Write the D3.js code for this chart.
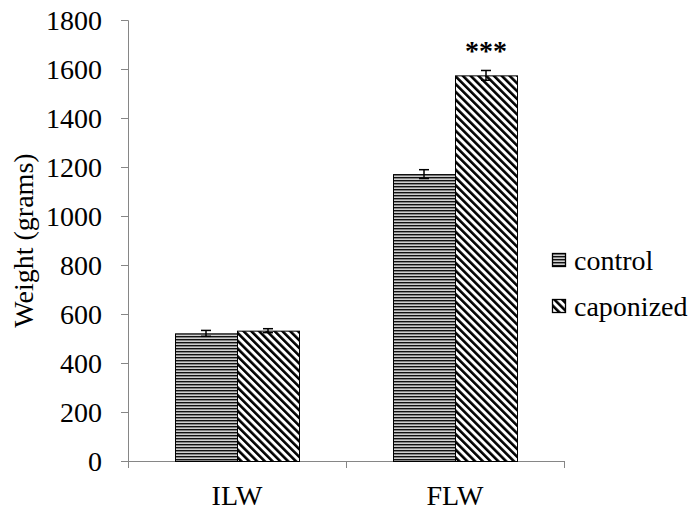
<!DOCTYPE html>
<html>
<head>
<meta charset="utf-8">
<script src="https://cdn.jsdelivr.net/npm/d3@7"></script>
<style>
	body { margin: 0; background: #fff; }
</style>
</head>
<body>
<div id="chart"></div>
<script>
// Data
var categories = ['ILW', 'FLW'];
var seriesNames = ['control', 'caponized'];
var controlValues = [521, 1171];
var controlErrors = [12, 18];
var caponizedValues = [532, 1574];
var caponizedErrors = [8, 20];
var yTicks = [0, 200, 400, 600, 800, 1000, 1200, 1400, 1600, 1800];
var significance = ['', '***'];

var width = 698, height = 512;
var margin = { left: 128, right: 134, top: 20, bottom: 51 };
var serif = '"Liberation Serif", "Times New Roman", Times, serif';
var fontSize = 28;

var svg = d3.select('#chart').append('svg')
	.attr('width', width)
	.attr('height', height)
	.attr('font-family', serif);

// Patterns
var defs = svg.append('defs');
var hp = defs.append('pattern')
	.attr('id', 'hlines')
	.attr('patternUnits', 'userSpaceOnUse')
	.attr('width', 6).attr('height', 3);
hp.append('rect').attr('width', 6).attr('height', 3).attr('fill', '#cfcfcf');
hp.append('rect').attr('y', 0).attr('width', 6).attr('height', 1.4).attr('fill', '#111');

var dp = defs.append('pattern')
	.attr('id', 'dlines')
	.attr('patternUnits', 'userSpaceOnUse')
	.attr('width', 5.5).attr('height', 5.5)
	.attr('patternTransform', 'rotate(-45)');
dp.append('rect').attr('width', 5.5).attr('height', 5.5).attr('fill', '#fff');
dp.append('rect').attr('x', 0).attr('width', 2.6).attr('height', 5.5).attr('fill', '#000');

var fills = ['url(#hlines)', 'url(#dlines)'];

// Scales
var x = d3.scaleBand()
	.domain(categories)
	.range([margin.left, width - margin.right])
	.paddingInner(0).paddingOuter(0);

var y = d3.scaleLinear()
	.domain([0, 1800])
	.range([height - margin.bottom, margin.top]);

var barW = 62;
var xs = d3.scaleBand()
	.domain(seriesNames)
	.range([0, barW * 2]);

// Axes
var axisColor = '#868686';
var yAxis = d3.axisLeft(y).tickValues(yTicks).tickFormat(d3.format('d')).tickSize(7).tickPadding(19);
var gy = svg.append('g')
	.attr('transform', 'translate(' + margin.left + ',0)')
	.call(yAxis)
	.attr('font-family', serif)
	.attr('font-size', fontSize);
gy.select('.domain').attr('stroke', axisColor);
gy.selectAll('.tick line').attr('stroke', axisColor);
gy.selectAll('.tick text')
	.attr('fill', '#000')
	.attr('dy', '0.34em');

var x0 = margin.left, x1 = width - margin.right;
var gx = svg.append('g');
gx.append('line')
	.attr('x1', x0 - 7).attr('x2', x1)
	.attr('y1', y(0) + 0.5).attr('y2', y(0) + 0.5)
	.attr('stroke', axisColor);
// category boundary ticks
var bounds = [x0].concat(categories.map(function(c) { return x(c) + x.bandwidth(); }));
gx.selectAll('.btick').data(bounds)
	.enter().append('line')
	.attr('x1', function(d) { return d + 0.5; })
	.attr('x2', function(d) { return d + 0.5; })
	.attr('y1', y(0)).attr('y2', y(0) + 7)
	.attr('stroke', axisColor);
gx.selectAll('.clabel').data(categories)
	.enter().append('text')
	.attr('x', function(d) { return x(d) + x.bandwidth() / 2; })
	.attr('y', y(0) + 44)
	.attr('text-anchor', 'middle')
	.attr('font-size', fontSize)
	.text(function(d) { return d; });

// Y title
svg.append('text')
	.attr('transform', 'translate(33,' + ((margin.top + height - margin.bottom) / 2) + ') rotate(-90)')
	.attr('text-anchor', 'middle')
	.attr('font-family', serif)
	.attr('font-size', fontSize)
	.text('Weight (grams)');

// Bars
var rows = categories.map(function(c, i) {
	return [
		{ cat: c, s: seriesNames[0], v: controlValues[i], e: controlErrors[i], k: 0 },
		{ cat: c, s: seriesNames[1], v: caponizedValues[i], e: caponizedErrors[i], k: 1 }
	];
});

var grp = svg.selectAll('.grp').data(rows)
	.enter().append('g')
	.attr('class', 'grp')
	.attr('transform', function(d) {
		return 'translate(' + (x(d[0].cat) + x.bandwidth() / 2 - barW) + ',0)';
	});

grp.selectAll('rect').data(function(d) { return d; })
	.enter().append('rect')
	.attr('x', function(d) { return xs(d.s) + 0.5; })
	.attr('y', function(d) { return y(d.v) + 0.5; })
	.attr('width', xs.bandwidth())
	.attr('height', function(d) { return y(0) - y(d.v); })
	.attr('fill', function(d) { return fills[d.k]; })
	.attr('stroke', '#000')
	.attr('stroke-width', 1);

// Error bars
var eb = grp.selectAll('.err').data(function(d) { return d; })
	.enter().append('g').attr('class', 'err')
	.attr('stroke', '#000').attr('stroke-width', 1.5);
eb.append('line')
	.attr('x1', function(d) { return xs(d.s) + xs.bandwidth() / 2; })
	.attr('x2', function(d) { return xs(d.s) + xs.bandwidth() / 2; })
	.attr('y1', function(d) { return y(d.v + d.e); })
	.attr('y2', function(d) { return y(d.v - d.e); });
eb.append('line')
	.attr('x1', function(d) { return xs(d.s) + xs.bandwidth() / 2 - 5; })
	.attr('x2', function(d) { return xs(d.s) + xs.bandwidth() / 2 + 5; })
	.attr('y1', function(d) { return y(d.v + d.e); })
	.attr('y2', function(d) { return y(d.v + d.e); });
eb.append('line')
	.attr('x1', function(d) { return xs(d.s) + xs.bandwidth() / 2 - 5; })
	.attr('x2', function(d) { return xs(d.s) + xs.bandwidth() / 2 + 5; })
	.attr('y1', function(d) { return y(d.v - d.e); })
	.attr('y2', function(d) { return y(d.v - d.e); });

// Significance stars
grp.append('text')
	.attr('x', xs(seriesNames[1]) + xs.bandwidth() / 2)
	.attr('y', function(d) { return y(d[1].v + d[1].e) - 10; })
	.attr('text-anchor', 'middle')
	.attr('font-size', fontSize)
	.attr('font-weight', 'bold')
	.text(function(d, i) { return significance[i]; });

// Legend
var legend = svg.append('g').attr('transform', 'translate(552,253)');
var li = legend.selectAll('.li').data(seriesNames)
	.enter().append('g')
	.attr('transform', function(d, i) { return 'translate(0,' + (i * 46) + ')'; });
li.append('rect')
	.attr('x', 0.5).attr('y', 0.5)
	.attr('width', 13).attr('height', 13)
	.attr('fill', function(d, i) { return fills[i]; })
	.attr('stroke', '#000')
	.attr('stroke-width', 1.3);
li.append('text')
	.attr('x', 22).attr('y', 7)
	.attr('dy', '0.35em')
	.attr('font-family', serif)
	.attr('font-size', fontSize)
	.text(function(d) { return d; });
</script>
</body>
</html>
